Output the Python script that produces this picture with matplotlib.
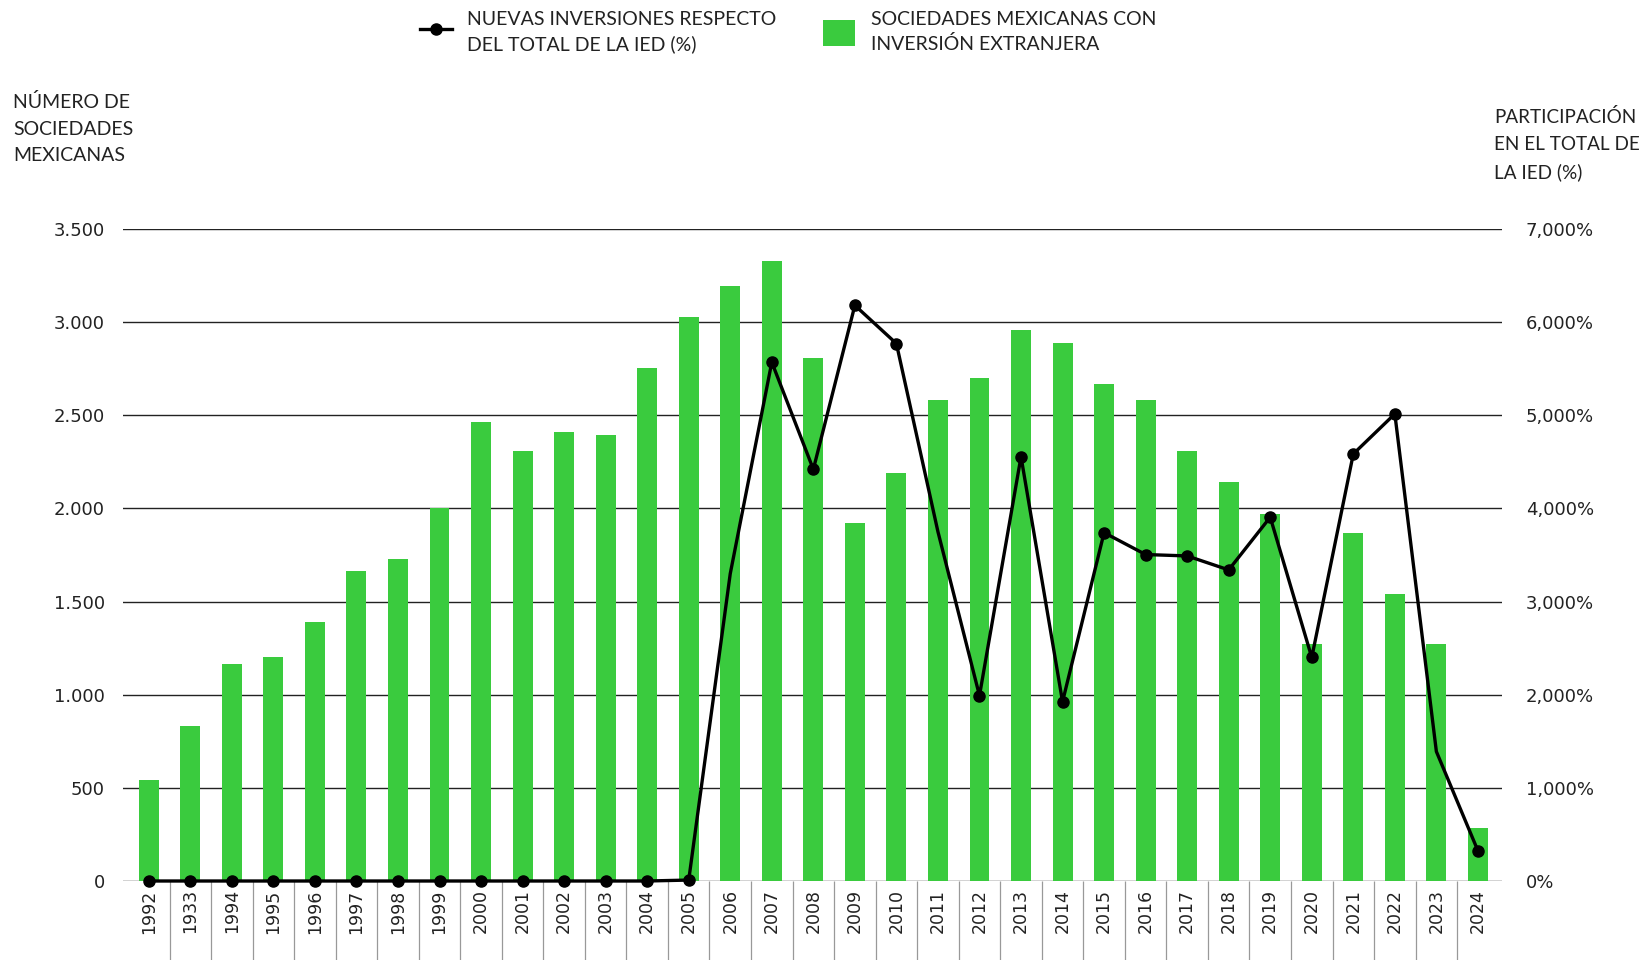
import numpy as np
import matplotlib
matplotlib.use('Agg')
from matplotlib import pyplot as plt
from matplotlib.ticker import FixedLocator

# etiquetas del eje x tal como aparecen (incluye "1933")
years = ['1992', '1933', '1994', '1995', '1996', '1997', '1998', '1999', '2000',
         '2001', '2002', '2003', '2004', '2005', '2006', '2007', '2008', '2009',
         '2010', '2011', '2012', '2013', '2014', '2015', '2016', '2017', '2018',
         '2019', '2020', '2021', '2022', '2023', '2024']

# sociedades mexicanas con inversion extranjera
sociedades = [540, 830, 1167, 1205, 1391, 1666, 1731, 2000, 2462, 2309, 2410,
              2393, 2752, 3027, 3196, 3330, 2807, 1922, 2190, 2582, 2699, 2957,
              2886, 2668, 2582, 2309, 2142, 1970, 1274, 1870, 1542, 1274, 284]

# nuevas inversiones respecto del total de la IED (%)
nuevas_pct = [0, 0, 0, 0, 0, 0, 0, 0, 0, 0, 0, 0, 0, 10,
              3300, 5570, 4420, 6180, 5770, 3750, 1990, 4556, 1925, 3740,
              3505, 3490, 3340, 3906, 2400, 4585, 5015, 1390, 325]

# anos sin marcador en la linea
sin_marca = ['2006', '2011', '2023']

left_ticks = [0, 500, 1000, 1500, 2000, 2500, 3000, 3500]
right_ticks = [0, 1000, 2000, 3000, 4000, 5000, 6000, 7000]

GREEN = '#3acb3e'
TXT = '#222222'
COND = ['Lato', 'DejaVu Sans']

plt.rcParams['font.family'] = ['DejaVu Sans']

fig = plt.figure(figsize=(16.48, 9.6), dpi=100)
ax = fig.add_axes([123/1648, 1-881/960, (1502-123)/1648, (881-229)/960])

x = np.arange(len(years))
bars = ax.bar(x, sociedades, width=0.48, color=GREEN, zorder=2,
              label='SOCIEDADES MEXICANAS CON\nINVERSIÓN EXTRANJERA')
ax.set_xlim(-0.62, len(years) - 0.42)
ax.set_ylim(0, 3500)
ax.set_axisbelow(True)
ax.yaxis.grid(True, color='#222222', linewidth=1.0)
for s in ax.spines.values():
    s.set_visible(False)

ax.set_xticks(x)
ax.set_xticklabels(years, rotation=90, fontsize=12.5, color=TXT)
ax.yaxis.set_major_locator(FixedLocator(left_ticks))
ax.set_yticklabels([f'{v:,}'.replace(',', '.') for v in left_ticks], fontsize=13, color=TXT)
ax.tick_params(axis='x', length=0, pad=6)
ax.tick_params(axis='y', length=0, pad=13)

# separadores bajo el eje
ax.vlines(x[:-1] + 0.5, -0.125, 0, transform=ax.get_xaxis_transform(),
          colors='#999999', linewidth=0.9, clip_on=False)

ax2 = ax.twinx()
ax2.set_ylim(0, 7000)
for s in ax2.spines.values():
    s.set_visible(False)
ax2.yaxis.set_major_locator(FixedLocator(right_ticks))
ax2.set_yticklabels([f'{v:,}%' for v in right_ticks], fontsize=13, color=TXT, ha='left')
ax2.tick_params(axis='y', length=0, pad=17)

marcas = [i for i, y in enumerate(years) if y not in sin_marca]
line, = ax2.plot(x, nuevas_pct, color='black', linewidth=2.4, marker='o',
                 markersize=8, markevery=marcas, clip_on=False, zorder=3,
                 label='NUEVAS INVERSIONES RESPECTO\nDEL TOTAL DE LA IED (%)')

leg = fig.legend(handles=[line, bars], loc='upper left',
                 bbox_to_anchor=(404/1648, 1.005), ncol=2, frameon=False,
                 prop={'family': COND, 'size': 14}, handlelength=1.65,
                 handleheight=1.7, handletextpad=0.8, columnspacing=2.4,
                 borderpad=0.3, numpoints=1, labelcolor=TXT)
for t in leg.get_texts():
    t.set_linespacing(1.5)

fig.text(13/1648, 1-93/960, 'NÚMERO DE\nSOCIEDADES\nMEXICANAS', family=COND,
         fontsize=14, color=TXT, va='top', ha='left', linespacing=1.68)
fig.text(1494/1648, 1-108/960, 'PARTICIPACIÓN\nEN EL TOTAL DE\nLA IED (%)', family=COND,
         fontsize=13.6, color=TXT, va='top', ha='left', linespacing=1.7)

fig.savefig('out.png', dpi=100)
